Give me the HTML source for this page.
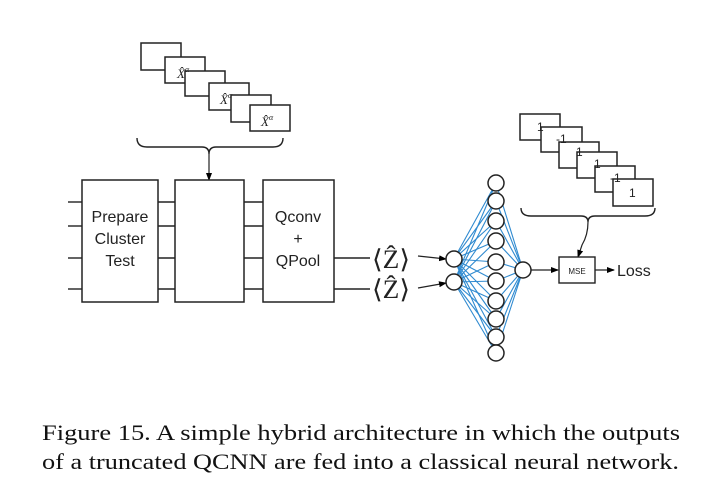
<!DOCTYPE html>
<html><head><style>body{margin:0;background:#fff}svg{display:block}</style></head><body>
<svg width="712" height="499" viewBox="0 0 712 499" xmlns="http://www.w3.org/2000/svg">
<defs><marker id="ah" markerWidth="8" markerHeight="6" refX="7" refY="3" orient="auto" markerUnits="userSpaceOnUse"><path d="M0,0 L8,3 L0,6 z" fill="#000"/></marker></defs>
<g fill="#fff" stroke="#222" stroke-width="1.5">
<rect x="141" y="43" width="40" height="27"/>
<rect x="165" y="57" width="40" height="26"/>
<rect x="185" y="71" width="40" height="25"/>
<rect x="209" y="83" width="40" height="27"/>
<rect x="231" y="95" width="40" height="27"/>
<rect x="250" y="105" width="40" height="26"/>
</g>
<g font-family="Liberation Serif, serif" font-style="italic" font-size="13" fill="#222">
<text x="177" y="78">X̂<tspan font-size="8" dy="-6">α</tspan></text>
<text x="220" y="104">X̂<tspan font-size="8" dy="-6">α</tspan></text>
<text x="261" y="126">X̂<tspan font-size="8" dy="-6">α</tspan></text>
</g>
<path d="M137,138 Q137,147 147,147 L202,147 Q209,147 209,154 Q209,147 216,147 L273,147 Q283,147 283,138" fill="none" stroke="#222" stroke-width="1.4"/>
<line x1="209" y1="154" x2="209" y2="180" stroke="#222" stroke-width="1.2" marker-end="url(#ah)"/>
<g fill="#fff" stroke="#222" stroke-width="1.5">
<rect x="520" y="114" width="40" height="26"/>
<rect x="541" y="127" width="41" height="25"/>
<rect x="559" y="142" width="40" height="26"/>
<rect x="577" y="152" width="40" height="26"/>
<rect x="595" y="166" width="40" height="26"/>
<rect x="613" y="179" width="40" height="27"/>
</g>
<g font-family="Liberation Sans, sans-serif" font-size="12" fill="#222">
<text x="537" y="131">1</text><text x="556" y="143">-1</text><text x="576" y="156">1</text>
<text x="594" y="168">1</text><text x="610" y="182">-1</text><text x="629" y="197">1</text>
</g>
<path d="M521,208 Q521,216 531,216 L581,216 Q588,216 588,222 Q588,216 595,216 L645,216 Q655,216 655,208" fill="none" stroke="#222" stroke-width="1.4"/>
<path d="M588,222 Q588,235 582,245 L578,257" fill="none" stroke="#222" stroke-width="1.2" marker-end="url(#ah)"/>
<g stroke="#222" stroke-width="1.4">
<line x1="68" y1="202" x2="82" y2="202"/><line x1="68" y1="226" x2="82" y2="226"/><line x1="68" y1="258" x2="82" y2="258"/><line x1="68" y1="289" x2="82" y2="289"/>
<line x1="158" y1="202" x2="175" y2="202"/><line x1="158" y1="226" x2="175" y2="226"/><line x1="158" y1="258" x2="175" y2="258"/><line x1="158" y1="289" x2="175" y2="289"/>
<line x1="244" y1="202" x2="263" y2="202"/><line x1="244" y1="226" x2="263" y2="226"/><line x1="244" y1="258" x2="263" y2="258"/><line x1="244" y1="289" x2="263" y2="289"/>
<line x1="334" y1="258" x2="370" y2="258"/><line x1="334" y1="289" x2="370" y2="289"/>
</g>
<g fill="#fff" stroke="#222" stroke-width="1.5">
<rect x="82" y="180" width="76" height="122"/>
<rect x="175" y="180" width="69" height="122"/>
<rect x="263" y="180" width="71" height="122"/>
</g>
<g font-family="Liberation Sans, sans-serif" font-size="16" fill="#222" text-anchor="middle">
<text x="120" y="222">Prepare</text><text x="120" y="244">Cluster</text><text x="120" y="266">Test</text>
<text x="298" y="222">Qconv</text><text x="298" y="244">+</text><text x="298" y="266">QPool</text>
</g>
<g font-family="Liberation Serif, serif" font-size="26" fill="#222">
<text x="372" y="268" textLength="38" lengthAdjust="spacingAndGlyphs">⟨Ẑ⟩</text><text x="372" y="298" textLength="38" lengthAdjust="spacingAndGlyphs">⟨Ẑ⟩</text>
</g>
<line x1="418" y1="256" x2="446" y2="259" stroke="#222" stroke-width="1.2" marker-end="url(#ah)"/>
<line x1="418" y1="288" x2="446" y2="283" stroke="#222" stroke-width="1.2" marker-end="url(#ah)"/>
<g stroke="#2f8ad0" stroke-width="1.1" id="net"></g>
<g fill="#fff" stroke="#222" stroke-width="1.5" id="nodes"></g>
<rect x="559" y="257" width="36" height="26" fill="#fff" stroke="#222" stroke-width="1.4"/>
<text x="577" y="274" font-family="Liberation Sans, sans-serif" font-size="8" fill="#222" text-anchor="middle">MSE</text>
<line x1="531" y1="270" x2="558" y2="270" stroke="#222" stroke-width="1.2" marker-end="url(#ah)"/>
<line x1="595" y1="270" x2="614" y2="270" stroke="#222" stroke-width="1.2" marker-end="url(#ah)"/>
<text x="617" y="276" font-family="Liberation Sans, sans-serif" font-size="16" fill="#222">Loss</text>
<g font-family="Liberation Serif, serif" font-size="22" fill="#111">
<text x="42" y="440" textLength="638" lengthAdjust="spacingAndGlyphs">Figure 15. A simple hybrid architecture in which the outputs</text>
<text x="42" y="469" textLength="637" lengthAdjust="spacingAndGlyphs">of a truncated QCNN are fed into a classical neural network.</text>
</g>
<script>
var ns="http://www.w3.org/2000/svg",net=document.getElementById("net"),nodes=document.getElementById("nodes");
var hy=[183,201,221,241,262,281,301,319,337,353],iy=[259,282];
function L(a,b,c,d){var l=document.createElementNS(ns,"line");l.setAttribute("x1",a);l.setAttribute("y1",b);l.setAttribute("x2",c);l.setAttribute("y2",d);net.appendChild(l);}
function C(x,y){var c=document.createElementNS(ns,"circle");c.setAttribute("cx",x);c.setAttribute("cy",y);c.setAttribute("r",8);nodes.appendChild(c);}
hy.forEach(function(h){iy.forEach(function(i){L(454,i,496,h);});L(496,h,523,270);});
iy.forEach(function(i){C(454,i);});hy.forEach(function(h){C(496,h);});C(523,270);
</script>
</svg>
</body></html>
